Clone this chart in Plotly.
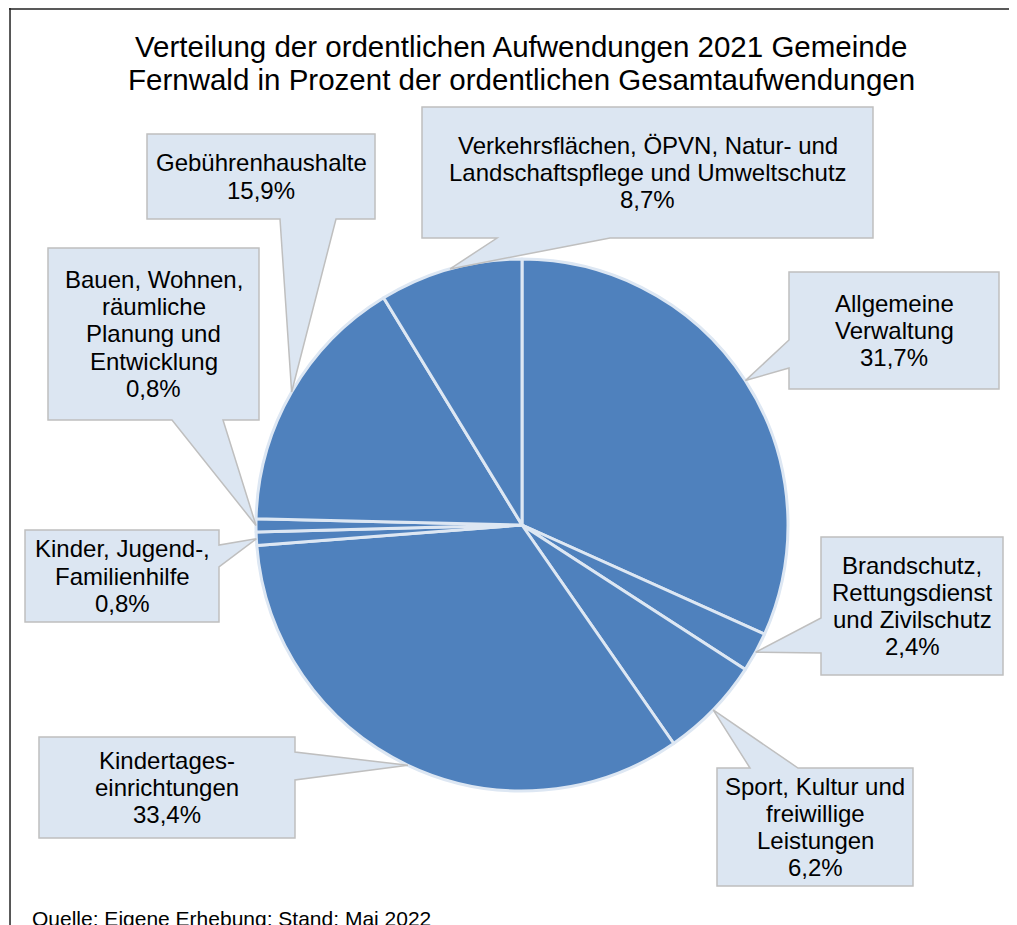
import math
import plotly.graph_objects as go

W, H = 1017, 925
OFF = 8  # the page body margin that shifts the figure

# data
labels = [
    "Allgemeine<br>Verwaltung",
    "Brandschutz,<br>Rettungsdienst<br>und Zivilschutz",
    "Sport, Kultur und<br>freiwillige<br>Leistungen",
    "Kindertages-<br>einrichtungen",
    "Kinder, Jugend-,<br>Familienhilfe",
    "Bauen, Wohnen,<br>räumliche<br>Planung und<br>Entwicklung",
    "Gebührenhaushalte",
    "Verkehrsflächen, ÖPVN, Natur- und<br>Landschaftspflege und Umweltschutz",
]
shares = [31.7, 2.4, 6.2, 33.4, 0.8, 0.8, 15.9, 8.7]
pct_text = ["31,7%", "2,4%", "6,2%", "33,4%", "0,8%", "0,8%", "15,9%", "8,7%"]

# callout boxes in screen pixels: (left, top, right, bottom), edge of the pointer, pointer base span
boxes = [
    ((789, 272, 999, 389), "left", (340, 368)),
    ((821, 537, 1003, 675), "left", (618, 653)),
    ((717, 768, 913, 886), "top", (750, 798)),
    ((39, 737, 295, 838), "right", (752, 780)),
    ((25, 530, 219, 622), "right", (545, 567)),
    ((48, 248, 259, 420), "bottom", (172, 223)),
    ((147, 134, 375, 219), "bottom", (280, 336)),
    ((422, 107, 873, 238), "bottom", (497, 610)),
]

# pie placement (screen pixels)
cx, cy, r = 522, 525, 266

BLUE = "#4f81bd"
BOXFILL = "#dce6f2"
BOXLINE = "#bfbfbf"
FONT = "Liberation Sans, Arial, sans-serif"
LABEL_SIZE = 24
LINE_PITCH = 27.3


def px(x, y):
    return (x - OFF) / W, 1 - (y - OFF) / H


def text_lines(lines, xc, yc, size, pitch):
    out = []
    n = len(lines)
    for k, s in enumerate(lines):
        ax, ay = px(xc, yc + (k - (n - 1) / 2) * pitch)
        out.append(dict(
            x=ax, y=ay, xref="paper", yref="paper", showarrow=False, text=s,
            font=dict(family=FONT, size=size, color="#000000"),
            xanchor="center", yanchor="middle",
        ))
    return out


x0, y1 = px(cx - r, cy - r)
x1, y0 = px(cx + r, cy + r)
fig = go.Figure(go.Pie(
    values=shares,
    labels=[l.replace("<br>", " ") for l in labels],
    sort=False,
    direction="clockwise",
    rotation=0,
    textinfo="none",
    hoverinfo="label+percent",
    marker=dict(colors=[BLUE] * len(shares), line=dict(color="#dde7f3", width=3)),
    domain=dict(x=[x0, x1], y=[y0, y1]),
    showlegend=False,
))

shapes = []
annotations = []
total = sum(shares)
cum = 0.0
for i, v in enumerate(shares):
    mid = (cum + v / 2) / total * 2 * math.pi
    cum += v
    tx, ty = cx + r * math.sin(mid), cy - r * math.cos(mid)
    (l, t, rr, b), edge, (s1, s2) = boxes[i]
    if edge == "top":
        pts = [(l, t), (s1, t), (tx, ty), (s2, t), (rr, t), (rr, b), (l, b)]
    elif edge == "right":
        pts = [(l, t), (rr, t), (rr, s1), (tx, ty), (rr, s2), (rr, b), (l, b)]
    elif edge == "bottom":
        pts = [(l, t), (rr, t), (rr, b), (s2, b), (tx, ty), (s1, b), (l, b)]
    else:
        pts = [(l, t), (rr, t), (rr, b), (l, b), (l, s2), (tx, ty), (l, s1)]
    path = "M " + " L ".join("%.5f,%.5f" % px(x, y) for x, y in pts) + " Z"
    shapes.append(dict(type="path", path=path, xref="paper", yref="paper",
                       fillcolor=BOXFILL, line=dict(color=BOXLINE, width=1.5)))
    lines = labels[i].split("<br>") + [pct_text[i]]
    annotations += text_lines(lines, (l + rr) / 2, (t + b) / 2, LABEL_SIZE, LINE_PITCH)

# title
annotations += text_lines(
    ["Verteilung der ordentlichen Aufwendungen 2021 Gemeinde",
     "Fernwald in Prozent der ordentlichen Gesamtaufwendungen"],
    521, 63, 29.5, 33)

# source note, cut by the lower edge as in the original
sx, sy = px(30, 918)
annotations.append(dict(
    x=sx, y=sy, xref="paper", yref="paper", showarrow=False,
    text="Quelle: Eigene Erhebung; Stand: Mai 2022",
    font=dict(family=FONT, size=21, color="#000000"),
    xanchor="left", yanchor="middle",
))

# frame
fx, fy = px(9, 8)
shapes.append(dict(type="line", xref="paper", yref="paper",
                   x0=fx, x1=1.05, y0=fy - 0.001, y1=fy - 0.001,
                   line=dict(color="#222222", width=1.5)))
shapes.append(dict(type="line", xref="paper", yref="paper",
                   x0=fx + 0.001, x1=fx + 0.001, y0=fy, y1=-0.05,
                   line=dict(color="#222222", width=1.5)))

fig.update_layout(
    width=W, height=H,
    margin=dict(l=0, r=0, t=0, b=0),
    paper_bgcolor="white",
    plot_bgcolor="white",
    shapes=shapes,
    annotations=annotations,
)

fig.write_html("out.html")
